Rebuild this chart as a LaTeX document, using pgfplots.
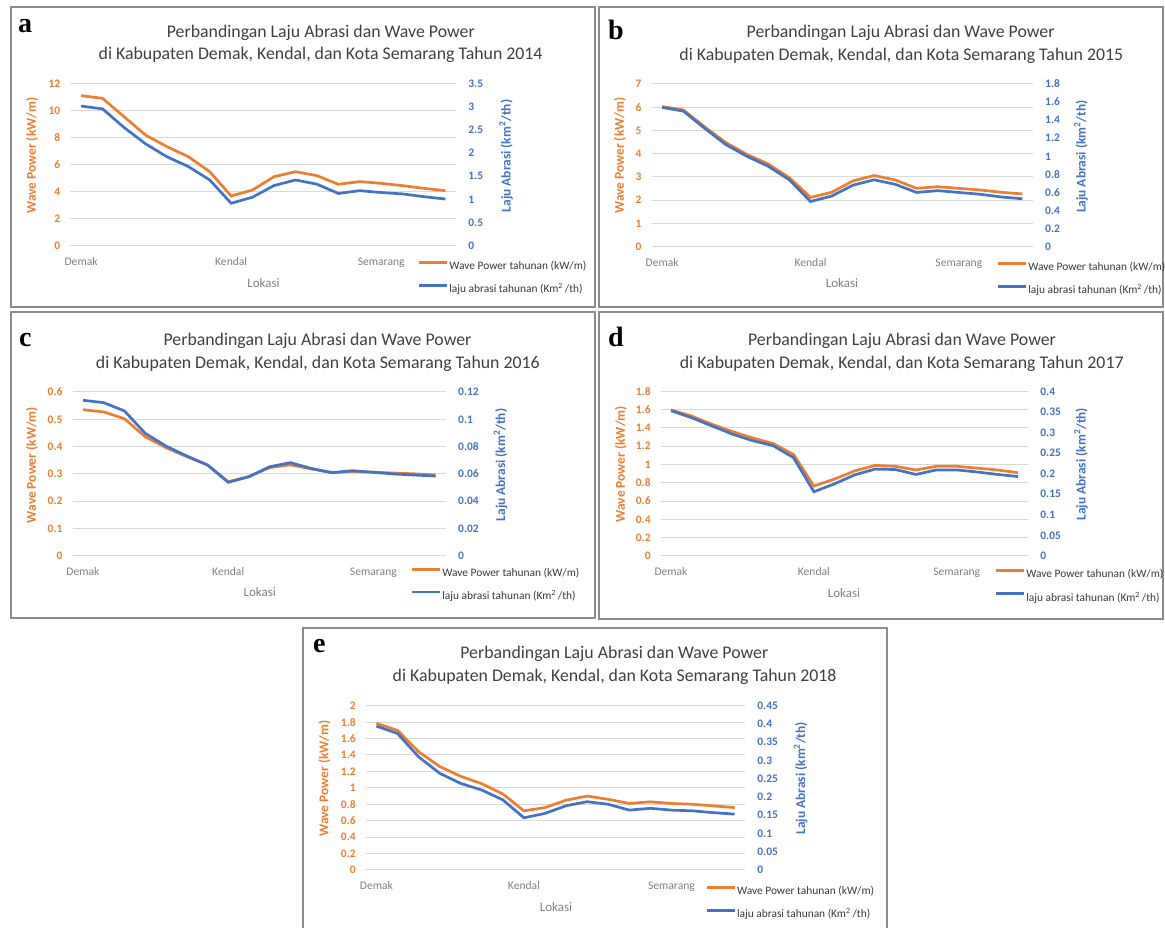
\documentclass[border=0pt]{standalone}
\usepackage{pgfplots}
\pgfplotsset{compat=1.18}
\usepackage{pgfplotstable}
\usepackage{fontspec}
\setmainfont{Carlito}
\newfontfamily\serifb{Liberation Serif}

\definecolor{orng}{HTML}{ED7D31}
\definecolor{blu}{HTML}{4472C4}
\definecolor{gridgray}{HTML}{D9D9D9}
\definecolor{tickgray}{HTML}{808080}
\definecolor{titlegray}{HTML}{404040}
\definecolor{legtext}{HTML}{383838}
\definecolor{boxgray}{HTML}{8C8C8C}

\pgfplotstableread{
i wp la
0 11.09 3.01
1 10.89 2.95
2 9.54 2.55
3 8.19 2.20
4 7.33 1.92
5 6.59 1.71
6 5.48 1.42
7 3.69 0.92
8 4.13 1.05
9 5.11 1.30
10 5.48 1.42
11 5.19 1.33
12 4.55 1.13
13 4.75 1.19
14 4.62 1.15
15 4.45 1.12
16 4.25 1.06
17 4.08 1.01
}\dataA
\pgfplotstableread{
i wp la
0 6.03 1.54
1 5.88 1.50
2 5.16 1.31
3 4.48 1.13
4 3.97 1.00
5 3.56 0.89
6 2.97 0.74
7 2.12 0.50
8 2.34 0.56
9 2.83 0.68
10 3.06 0.74
11 2.87 0.69
12 2.51 0.60
13 2.58 0.62
14 2.51 0.60
15 2.44 0.58
16 2.34 0.55
17 2.27 0.53
}\dataB
\pgfplotstableread{
i wp la
0 0.535 0.1139
1 0.527 0.1122
2 0.502 0.1061
3 0.436 0.0897
4 0.396 0.0804
5 0.363 0.0731
6 0.333 0.0665
7 0.271 0.0538
8 0.290 0.0579
9 0.323 0.0652
10 0.333 0.0682
11 0.318 0.0640
12 0.304 0.0609
13 0.309 0.0623
14 0.306 0.0611
15 0.303 0.0599
16 0.300 0.0591
17 0.296 0.0584
}\dataC
\pgfplotstableread{
i wp la
0 1.596 0.353
1 1.53 0.336
2 1.44 0.316
3 1.36 0.296
4 1.29 0.280
5 1.23 0.268
6 1.11 0.239
7 0.765 0.156
8 0.84 0.175
9 0.93 0.197
10 0.99 0.211
11 0.98 0.210
12 0.94 0.198
13 0.98 0.209
14 0.98 0.209
15 0.96 0.204
16 0.94 0.198
17 0.91 0.193
}\dataD
\pgfplotstableread{
i wp la
0 1.785 0.394
1 1.70 0.374
2 1.44 0.310
3 1.26 0.265
4 1.14 0.237
5 1.05 0.219
6 0.925 0.192
7 0.72 0.143
8 0.76 0.155
9 0.85 0.176
10 0.90 0.187
11 0.86 0.180
12 0.81 0.164
13 0.83 0.169
14 0.81 0.164
15 0.80 0.162
16 0.78 0.157
17 0.76 0.153
}\dataE

\pgfplotsset{
  pbase/.style={scale only axis, anchor=south west, xmin=-0.5, xmax=17.5, ymin=0,
    axis line style={draw=none}, major tick length=0pt, tick style={draw=none},
    /pgf/number format/assume math mode=true, scaled y ticks=false},
  pleft/.style={pbase, ymajorgrids, grid style={draw=gridgray, line width=1pt},
    xtick={0,7,14}, xticklabels={Demak,Kendal,Semarang},
    xticklabel style={font=\fontsize{11.6}{12}\selectfont, text=tickgray, anchor=base, inner sep=0pt, yshift=-19.8pt},
    yticklabel style={font=\bfseries\fontsize{11.5}{12}\selectfont, text=orng, anchor=east, inner sep=0pt, xshift=-10pt}},
  pright/.style={pbase, xtick=\empty, yticklabel pos=right,
    yticklabel style={font=\bfseries\fontsize{11.5}{12}\selectfont, text=blu, anchor=west, inner sep=0pt, xshift=12pt},
    legend cell align=left,
    legend image code/.code={\draw[##1] (0pt,3.5pt) -- (28pt,3.5pt);},
    legend style={anchor=north west, draw=none, fill=none, inner sep=0pt, outer sep=0pt,
      font=\fontsize{11.4}{12}\selectfont, text=legtext, row sep=11.5pt,
      nodes={inner sep=0.6pt}}},
  wpline/.style={orng, line width=2.7pt},
  laline/.style={blu, line width=2.7pt},
}

\newcommand{\legA}{Wave Power tahunan (kW/m)}
\newcommand{\legB}{laju abrasi tahunan (Km\textsuperscript{2}\,/th)}

\begin{document}
\begin{tikzpicture}[x=1pt,y=1pt]
\useasboundingbox (0,0) rectangle (1165,928);
\begin{scope}
\clip (0,0) rectangle (1165,928);
% panel boxes
\draw[boxgray, line width=1.3pt] (11,921) rectangle (595,621);
\draw[boxgray, line width=1.3pt] (599,921) rectangle (1163,621);
\draw[boxgray, line width=1.3pt] (11,616) rectangle (595,310);
\draw[boxgray, line width=1.3pt] (599,616) rectangle (1163,309);
\draw[boxgray, line width=1.3pt] (303,300) rectangle (887,-5);
\end{scope}

% ===== panel a =====
\begin{axis}[pleft, at={(70.4pt,682pt)}, width=385.8pt, height=162.7pt, ymax=12,
  ytick={0,2,4,6,8,10,12}, yticklabels={0,2,4,6,8,10,12}]
\addplot[wpline] table[x=i,y=wp]{\dataA};
\end{axis}
\begin{axis}[pright, at={(70.4pt,682pt)}, width=385.8pt, height=162.7pt, ymax=3.5,
  ytick={0,0.5,1,1.5,2,2.5,3,3.5}, yticklabels={0,0.5,1,1.5,2,2.5,3,3.5},
  legend style={at={(0.901,-0.0891)}}]
\addlegendimage{wpline}
\addlegendentry{\legA}
\addplot[laline] table[x=i,y=la]{\dataA};
\addlegendentry{\legB}
\end{axis}

% ===== panel b =====
\begin{axis}[pleft, at={(651.6pt,681.3pt)}, width=381.4pt, height=162.7pt, ymax=7,
  ytick={0,1,2,3,4,5,6,7}, yticklabels={0,1,2,3,4,5,6,7}]
\addplot[wpline] table[x=i,y=wp]{\dataB};
\end{axis}
\begin{axis}[pright, at={(651.6pt,681.3pt)}, width=381.4pt, height=162.7pt, ymax=1.8,
  ytick={0,0.2,0.4,0.6,0.8,1,1.2,1.4,1.6,1.8}, yticklabels={0,0.2,0.4,0.6,0.8,1,1.2,1.4,1.6,1.8},
  legend style={at={(0.9056,-0.091)}}]
\addlegendimage{wpline}
\addlegendentry{\legA}
\addplot[laline] table[x=i,y=la]{\dataB};
\addlegendentry{\legB}
\end{axis}

% ===== panel c =====
\begin{axis}[pleft, at={(72.6pt,372.3pt)}, width=373.4pt, height=163.7pt, ymax=0.6,
  ytick={0,0.1,0.2,0.3,0.4,0.5,0.6}, yticklabels={0,0.1,0.2,0.3,0.4,0.5,0.6}]
\addplot[wpline] table[x=i,y=wp]{\dataC};
\end{axis}
\begin{axis}[pright, at={(72.6pt,372.3pt)}, width=373.4pt, height=163.7pt, ymax=0.12,
  ytick={0,0.02,0.04,0.06,0.08,0.1,0.12}, yticklabels={0,0.02,0.04,0.06,0.08,0.1,0.12},
  legend style={at={(0.9063,-0.0702)}}]
\addlegendimage{wpline}
\addlegendentry{\legA}
\addplot[laline] table[x=i,y=la]{\dataC};
\addlegendentry{\legB}
\end{axis}

% ===== panel d =====
\begin{axis}[pleft, at={(660.8pt,372pt)}, width=367.4pt, height=164.7pt, ymax=1.8,
  ytick={0,0.2,0.4,0.6,0.8,1,1.2,1.4,1.6,1.8}, yticklabels={0,0.2,0.4,0.6,0.8,1,1.2,1.4,1.6,1.8}]
\addplot[wpline] table[x=i,y=wp]{\dataD};
\end{axis}
\begin{axis}[pright, at={(660.8pt,372pt)}, width=367.4pt, height=164.7pt, ymax=0.4,
  ytick={0,0.05,0.1,0.15,0.2,0.25,0.3,0.35,0.4}, yticklabels={0,0.05,0.1,0.15,0.2,0.25,0.3,0.35,0.4},
  legend style={at={(0.9096,-0.0777)}}]
\addlegendimage{wpline}
\addlegendentry{\legA}
\addplot[laline] table[x=i,y=la]{\dataD};
\addlegendentry{\legB}
\end{axis}

% ===== panel e =====
\begin{axis}[pleft, at={(365.9pt,58pt)}, width=379.3pt, height=164.3pt, ymax=2,
  ytick={0,0.2,0.4,0.6,0.8,1,1.2,1.4,1.6,1.8,2}, yticklabels={0,0.2,0.4,0.6,0.8,1,1.2,1.4,1.6,1.8,2}]
\addplot[wpline] table[x=i,y=wp]{\dataE};
\end{axis}
\begin{axis}[pright, at={(365.9pt,58pt)}, width=379.3pt, height=164.3pt, ymax=0.45,
  ytick={0,0.05,0.1,0.15,0.2,0.25,0.3,0.35,0.4,0.45}, yticklabels={0,0.05,0.1,0.15,0.2,0.25,0.3,0.35,0.4,0.45},
  legend style={at={(0.8959,-0.0943)}}]
\addlegendimage{wpline}
\addlegendentry{\legA}
\addplot[laline] table[x=i,y=la]{\dataE};
\addlegendentry{\legB}
\end{axis}

% ===== texts =====
\tikzset{
  ttl/.style={anchor=base, inner sep=0pt, text=titlegray, font=\fontsize{17.8}{20}\selectfont},
  lok/.style={anchor=center, inner sep=0pt, text=tickgray, font=\fontsize{13}{14}\selectfont},
  yl/.style={anchor=center, inner sep=0pt, rotate=90, font=\bfseries\fontsize{13.4}{14}\selectfont},
  let/.style={anchor=base west, inner sep=0pt, font=\serifb\bfseries\fontsize{28}{30}\selectfont},
}
% letters
\node[let] at (18,895.3) {a};
\node[let] at (608,888) {b};
\node[let] at (19,581.3) {c};
\node[let] at (608,581.3) {d};
\node[let] at (313,275) {e};
% titles
\node[ttl] at (320.8,890.5) {Perbandingan Laju Abrasi dan Wave Power};
\node[ttl] at (320.6,868) {di Kabupaten Demak, Kendal, dan Kota Semarang Tahun 2014};
\node[ttl] at (900.6,890.7) {Perbandingan Laju Abrasi dan Wave Power};
\node[ttl] at (901.3,867.7) {di Kabupaten Demak, Kendal, dan Kota Semarang Tahun 2015};
\node[ttl] at (317.5,582) {Perbandingan Laju Abrasi dan Wave Power};
\node[ttl] at (317.8,559.4) {di Kabupaten Demak, Kendal, dan Kota Semarang Tahun 2016};
\node[ttl] at (902,582.7) {Perbandingan Laju Abrasi dan Wave Power};
\node[ttl] at (901.7,559.4) {di Kabupaten Demak, Kendal, dan Kota Semarang Tahun 2017};
\node[ttl] at (614.3,269.4) {Perbandingan Laju Abrasi dan Wave Power};
\node[ttl] at (614.6,246) {di Kabupaten Demak, Kendal, dan Kota Semarang Tahun 2018};
% Lokasi
\node[lok] at (263.5,645.3) {Lokasi};
\node[lok] at (842,645) {Lokasi};
\node[lok] at (259.7,336) {Lokasi};
\node[lok] at (844,335.3) {Lokasi};
\node[lok] at (556,21.3) {Lokasi};
% y labels
\node[yl, text=orng] at (32,772.5) {Wave Power (kW/m)};
\node[yl, text=blu] at (506,772) {Laju Abrasi (km\textsuperscript{2}/th)};
\node[yl, text=orng] at (620,772.5) {Wave Power (kW/m)};
\node[yl, text=blu] at (1081,771.3) {Laju Abrasi (km\textsuperscript{2}/th)};
\node[yl, text=orng] at (32,463) {Wave Power (kW/m)};
\node[yl, text=blu] at (500.6,463) {Laju Abrasi (km\textsuperscript{2}/th)};
\node[yl, text=orng] at (621,463.8) {Wave Power (kW/m)};
\node[yl, text=blu] at (1081,463.8) {Laju Abrasi (km\textsuperscript{2}/th)};
\node[yl, text=orng] at (324.5,149.7) {Wave Power (kW/m)};
\node[yl, text=blu] at (800.6,149.7) {Laju Abrasi (km\textsuperscript{2}/th)};
\end{tikzpicture}
\end{document}
